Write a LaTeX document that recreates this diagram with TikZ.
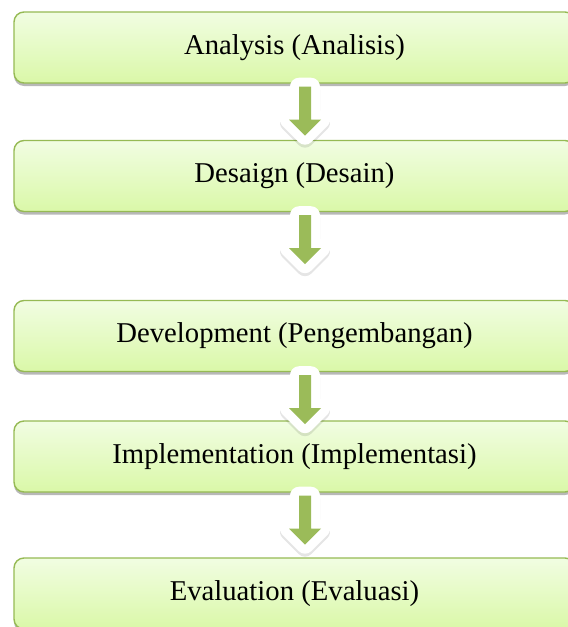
\documentclass[tikz,border=0pt]{standalone}
\usepackage{fontspec}
\setmainfont{Liberation Serif}
\usetikzlibrary{shadows,calc}
\definecolor{boxline}{RGB}{150,186,84}
\definecolor{boxtop}{RGB}{241,253,226}
\definecolor{boxbot}{RGB}{218,248,168}
\definecolor{arrowgreen}{RGB}{155,187,89}
\newcommand\stagearrow[1]{%
  \begin{scope}[shift={($(#1.south)+(10.5,0)$)}]
    \draw[black, opacity=0.10, line width=18pt, line join=round, shift={(0,3)}]
      (-6,3) -- (6,3) -- (6,36) -- (16,36) -- (0,52) -- (-16,36) -- (-6,36) -- cycle;
    \draw[white, line width=18pt, line join=round]
      (-6,3) -- (6,3) -- (6,36) -- (16,36) -- (0,52) -- (-16,36) -- (-6,36) -- cycle;
    \fill[arrowgreen]
      (-6,3) -- (6,3) -- (6,36) -- (16,36) -- (0,52) -- (-16,36) -- (-6,36) -- cycle;
  \end{scope}}
\begin{document}
\begin{tikzpicture}[x=1pt,y=-1pt,
  stagebox/.style={draw=boxline, line width=1.4pt, rounded corners=10pt,
    top color=boxtop, bottom color=boxbot,
    minimum width=561pt, minimum height=71pt, inner sep=0pt,
    font=\fontsize{28.7}{33}\selectfont, text=black,
    drop shadow={shadow xshift=0pt, shadow yshift=-3pt, opacity=0.28, fill=black}}]
  \path[use as bounding box] (0,0) rectangle (568,627);
  \clip (0,0) rectangle (568,627);
  \fill[white] (0,0) rectangle (568,627);
  \node[stagebox] (a1) at (294.5,47.5) {Analysis (Analisis)};
  \node[stagebox] (a2) at (294.5,176) {Desaign (Desain)};
  \node[stagebox] (a3) at (294.5,336) {Development (Pengembangan)};
  \node[stagebox] (a4) at (294.5,456.5) {Implementation (Implementasi)};
  \node[stagebox] (a5) at (294.5,593.5) {Evaluation (Evaluasi)};
  \stagearrow{a1}
  \stagearrow{a2}
  \stagearrow{a3}
  \stagearrow{a4}
\end{tikzpicture}
\end{document}
